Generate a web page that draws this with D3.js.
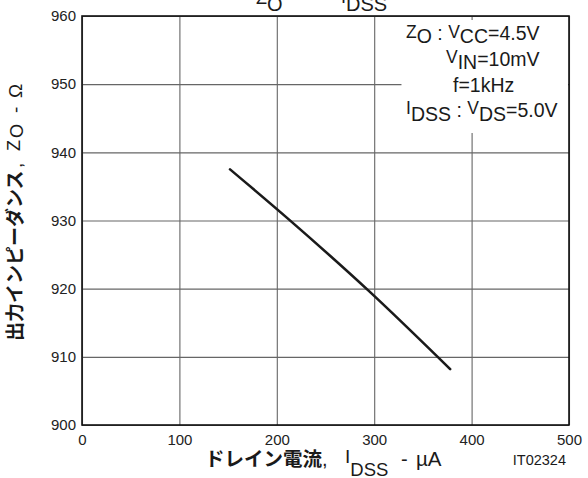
<!DOCTYPE html>
<html>
<head>
<meta charset="utf-8">
<script src="https://cdn.jsdelivr.net/npm/d3@7"></script>
<style>
  body { margin: 0; background: #fff; }
  svg { display: block; }
  .tick text { font-family: "Liberation Sans", Arial, sans-serif; font-size: 15px; fill: #222; }
</style>
</head>
<body>
<div id="chart"></div>
<script>
// -- DATA -- //
const idss = [152, 212, 295, 378];          // drain current, uA
const zo = [937.5, 930.2, 919.6, 908.2];     // output impedance, ohm
const xTicks = [0, 100, 200, 300, 400, 500];
const yTicks = [900, 910, 920, 930, 940, 950, 960];

var width = 588;
var height = 478;
var margin = { top: 16, right: 19, bottom: 53, left: 82 };

const svg = d3.select("#chart")
    .append("svg")
    .attr("width", width)
    .attr("height", height);

const x = d3.scaleLinear().domain([0, 500]).range([margin.left, width - margin.right]);
const y = d3.scaleLinear().domain([900, 960]).range([height - margin.bottom, margin.top]);

const plotW = x(500) - x(0);
const plotH = y(900) - y(960);

// grid + tick labels
const xAxis = svg.append("g")
    .attr("transform", `translate(0,${y(900)})`)
    .call(d3.axisBottom(x).tickValues(xTicks).tickSizeInner(-plotH).tickSizeOuter(0).tickPadding(9));
const yAxis = svg.append("g")
    .attr("transform", `translate(${x(0)},0)`)
    .call(d3.axisLeft(y).tickValues(yTicks).tickSizeInner(-plotW).tickSizeOuter(0).tickPadding(6));

[xAxis, yAxis].forEach(g => {
    g.select(".domain").remove();
    g.selectAll(".tick line").attr("stroke", "#666").attr("stroke-width", 1.1);
});

// legend box (white patch over the grid)
svg.append("rect")
    .attr("x", x(328)).attr("y", 20)
    .attr("width", x(500) - x(328) - 1).attr("height", 113)
    .attr("fill", "#fff");

// frame
svg.append("rect")
    .attr("x", x(0)).attr("y", y(960))
    .attr("width", plotW).attr("height", plotH)
    .attr("fill", "none")
    .attr("stroke", "#111")
    .attr("stroke-width", 1.6);

// curve
const line = d3.line()
    .x((d, i) => x(idss[i]))
    .y(d => y(d))
    .curve(d3.curveMonotoneX);

svg.append("path")
    .datum(zo)
    .attr("d", line)
    .attr("fill", "none")
    .attr("stroke", "#1a1a1a")
    .attr("stroke-width", 2.6)
    .attr("stroke-linecap", "round");

// -- TEXT -- //
const latin = '"Liberation Sans", Arial, sans-serif';
const jp = '"Noto Sans CJK JP", sans-serif';

// helper: a text element made of pieces [string, y, size, font, x]
function rich(px, parts) {
    let t = svg.append("text")
        .attr("x", px)
        .attr("font-family", latin)
        .attr("fill", "#1a1a1a");
    parts.forEach(p => {
        let s = t.append("tspan").attr("y", p[1]).attr("font-size", p[2]).text(p[0]);
        if (p[3]) s.attr("font-family", p[3]).attr("font-weight", "bold");
        if (p[4]) s.attr("x", p[4]);
    });
    return t;
}

// title, clipped at the top of the page
rich(256, [["Z", 4, 18], ["O", 11, 20]]);
rich(341, [["I", 3, 18], ["DSS", 11, 20]]);

// legend
rich(406, [["Z", 38, 17.5], ["O", 43, 19.5], [" : ", 40, 19.5], ["V", 38, 17.5], ["CC", 43, 19.5], ["=4.5V", 40, 19.5]]);
rich(446, [["V", 63, 17.5], ["IN", 68.5, 19.5], ["=10mV", 66, 19.5]]);
rich(453, [["f=1kHz", 92, 19.5]]);
rich(406, [["I", 114, 17.5], ["DSS", 120.5, 19.5], [" : ", 117, 19.5], ["V", 114, 17.5], ["DS", 120.5, 19.5], ["=5.0V", 117, 19.5]]);

// x axis label
rich(205, [["ドレイン電流", 466, 19.5, jp], [",", 466, 20], ["I", 463, 19, null, 345], ["DSS", 476, 18.5],
    ["-", 466, 20, null, 401], ["µA", 466, 20.5, null, 416]]);

// figure code
svg.append("text")
    .attr("x", 566).attr("y", 465)
    .attr("text-anchor", "end")
    .attr("font-family", latin)
    .attr("font-size", 14.5)
    .attr("fill", "#1a1a1a")
    .text("IT02324");

// y axis label, rotated (x runs upward from y=341)
const yl = svg.append("text")
    .attr("transform", "translate(22,341) rotate(-90)")
    .attr("font-family", latin)
    .attr("fill", "#1a1a1a");
yl.append("tspan").attr("x", 0).attr("font-family", jp).attr("font-weight", "bold").attr("font-size", 19).text("出力インピーダンス");
yl.append("tspan").attr("x", 173).attr("font-size", 19).text(",");
yl.append("tspan").attr("x", 190).attr("font-size", 18).attr("dy", -2).text("Z");
yl.append("tspan").attr("x", 203).attr("font-size", 18).attr("dy", 3).text("O");
yl.append("tspan").attr("x", 228).attr("font-size", 19).attr("dy", -1).text("-");
yl.append("tspan").attr("x", 243).attr("font-size", 19).text("Ω");
</script>
</body>
</html>
